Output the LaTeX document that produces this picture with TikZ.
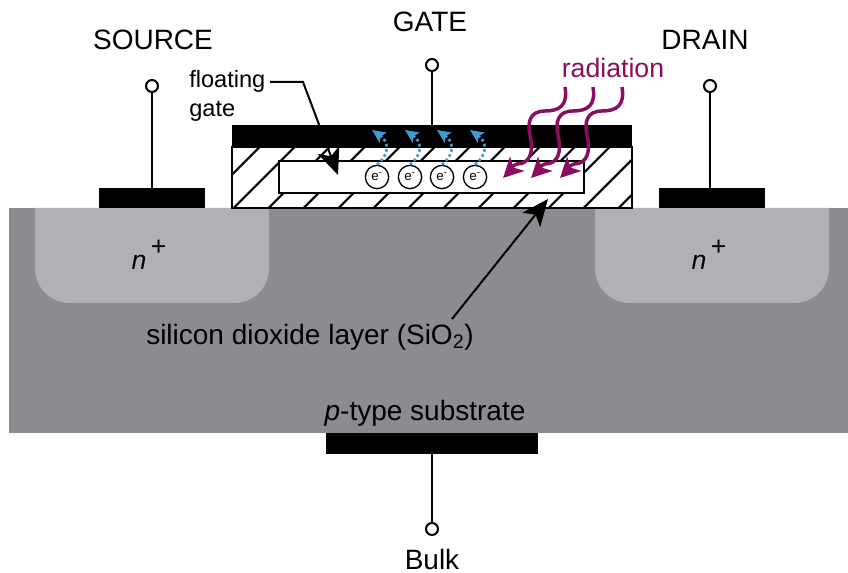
\documentclass[tikz,border=0pt]{standalone}
\usepackage{fontspec}
\setmainfont{Liberation Sans}
\usetikzlibrary{arrows.meta}
\definecolor{substrate}{HTML}{8B8C8F}
\definecolor{wellgray}{HTML}{B0B1B4}
\definecolor{radcolor}{HTML}{8C0C5F}
\definecolor{eblue}{HTML}{3F9BD5}
\begin{document}
\begin{tikzpicture}
                [x=0.75pt, y=-0.75pt,
                contact/.style={rectangle, fill=black, inner sep=0pt},
                terminal/.style={circle, draw, fill=white, line width=1.5pt, minimum size=9pt, inner sep=0pt},
                wire/.style={draw, line width=1.5pt},
                box/.style={rectangle, draw, line width=1.6pt, inner sep=0pt},
                electron/.style={circle, draw, fill=white, line width=1pt, minimum size=17.5pt, inner sep=0pt, font=\fontsize{10}{12}\selectfont},
                label/.style={inner sep=0pt, font=\fontsize{21}{25}\selectfont},
                small/.style={inner sep=0pt, align=left, font=\fontsize{17.7}{22}\selectfont},
                pointer/.style={draw, line width=1.5pt, -{Stealth[length=20pt, width=17pt, inset=5pt]}},
                ray/.style={draw=radcolor, line width=2.6pt, -{Stealth[length=15pt, width=15pt, inset=4pt]}},
                hop/.style={draw=eblue, line width=2pt, dotted, -{Stealth[length=10pt, width=9pt, inset=2pt]}}]
                \useasboundingbox (0,0) rectangle (848,573);
                % Substrate and wells
                \fill[substrate] (9,208) rectangle (848,433);
                \fill[wellgray] (35,208) [rounded corners=26pt] -- (35,303) -- (269,303) [sharp corners] -- (269,208) -- cycle;
                \fill[wellgray] (595,208) [rounded corners=26pt] -- (595,303) -- (829,303) [sharp corners] -- (829,208) -- cycle;
                % Oxide with hatching
                \node[box, fill=white, minimum width=300pt, minimum height=45.75pt] (oxide) at (432,177.5) {};
                \begin{scope}
                \clip (232,147) rectangle (632,208);
                \foreach \s in {0,...,12}
                    \draw[line width=1.6pt] ({406.7+35*\s-208},208) -- ({406.7+35*\s-147},147);
                \end{scope}
                \node[box, minimum width=300pt, minimum height=45.75pt] (oxideedge) at (432,177.5) {};
                \node[box, fill=white, minimum width=228.75pt, minimum height=24pt] (floating) at (431.5,177) {};
                % Contacts
                \node[contact, minimum width=79.5pt, minimum height=15pt] (sourcepad) at (152,198) {};
                \node[contact, minimum width=79.5pt, minimum height=15pt] (drainpad) at (712,198) {};
                \node[contact, minimum width=300pt, minimum height=16.5pt] (gatepad) at (432,136) {};
                \node[contact, minimum width=159pt, minimum height=15.75pt] (bulkpad) at (432,443.5) {};
                % Terminals
                \node[terminal] (sourcepin) at (152,86) {};
                \node[terminal] (gatepin) at (432,65) {};
                \node[terminal] (drainpin) at (710,86) {};
                \node[terminal] (bulkpin) at (432,529) {};
                \draw[wire] (sourcepin) -- (sourcepad);
                \draw[wire] (gatepin) -- (gatepad);
                \draw[wire] (drainpin) -- (drainpin |- drainpad.north);
                \draw[wire] (bulkpin) -- (bulkpad);
                % Labels
                \node[label] (source) at (153,40) {SOURCE};
                \node[label] (gate) at (430,22) {GATE};
                \node[label] (drain) at (705,40) {DRAIN};
                \node[label] (bulk) at (432,559) {Bulk};
                \node[label, text=radcolor, font=\fontsize{20}{24}\selectfont] (radiation) at (613,68) {radiation};
                \node[small, anchor=west] (floatlabel) at (189,96) {floating\\gate};
                \node[label] (oxidelabel) at (310,337) {silicon dioxide layer (SiO\textsubscript{2})};
                \node[label] (ptype) at (425,413) {\textit{p}-type substrate};
                \node[label, font=\fontsize{20}{24}\selectfont] (nleft) at (149,255) {\textit{n}\,\raisebox{1ex}{+}};
                \node[label, font=\fontsize{20}{24}\selectfont] (nright) at (709,255) {\textit{n}\,\raisebox{1ex}{+}};
                % Pointers
                \coordinate (floatstart) at (270,82);
                \coordinate (floatbend) at (303,82);
                \coordinate (floattip) at (338,175);
                \coordinate (oxidestart) at (452,319);
                \coordinate (oxidetip) at (548,199);
                \draw[pointer] (floatstart) -- (floatbend) -- (floattip);
                \draw[pointer] (oxidestart) -- (oxidetip);
                % Electrons
                \foreach \i/\ex in {1/377,2/410,3/442,4/475} {
                    \node[electron] (e\i) at (\ex,177) {e\textsuperscript{-}};
                    \coordinate (hop\i) at ({\ex-5},130);
                    \draw[hop] (e\i.north) .. controls +(14,-12) and +(16,11) .. (hop\i);
                }
                % Radiation
                \foreach \i/\d in {1/0,2/28,3/57} {
                    \draw[ray, shift={(\d,0)}] (565,87) coordinate (raystart\i)
                        .. controls (568,105) and (560,111) .. (545,111)
                        .. controls (530,111) and (527,122) .. (530,135)
                        .. controls (534,152) and (530,164) .. (517,164)
                        .. controls (512,165) and (510,171) .. (503,178) coordinate (rayend\i);
                }
            \end{tikzpicture}
\end{document}
